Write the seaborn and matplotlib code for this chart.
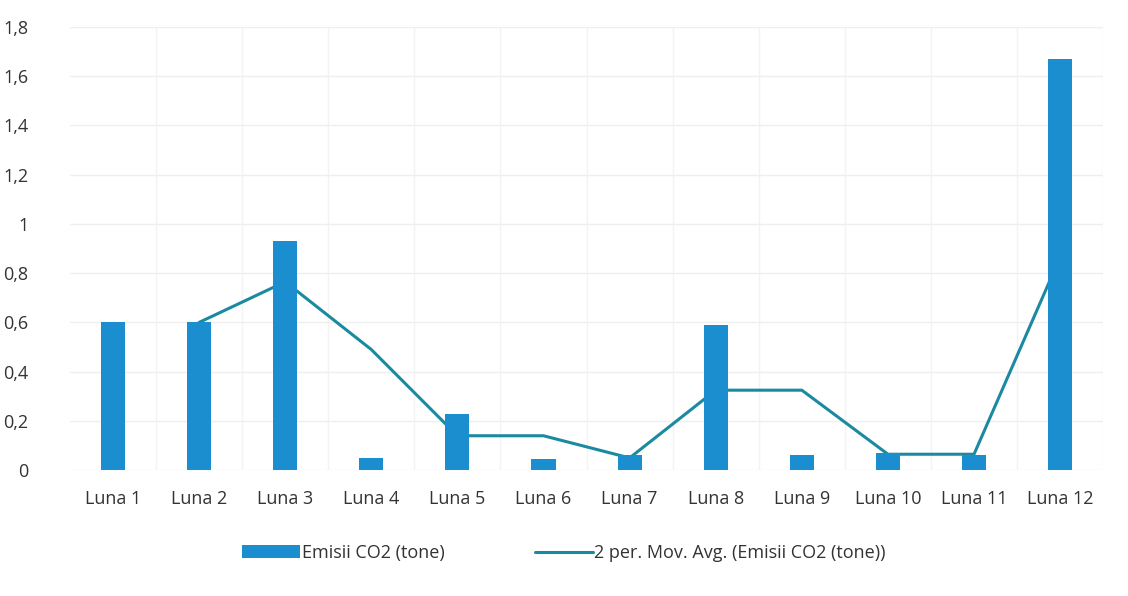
import matplotlib
matplotlib.use("Agg")
import matplotlib.pyplot as plt
import seaborn as sns
import pandas as pd
import numpy as np
from matplotlib.ticker import FuncFormatter

categories = ["Luna 1", "Luna 2", "Luna 3", "Luna 4", "Luna 5", "Luna 6",
              "Luna 7", "Luna 8", "Luna 9", "Luna 10", "Luna 11", "Luna 12"]
emisii = [0.60, 0.60, 0.93, 0.05, 0.23, 0.045, 0.06, 0.59, 0.06, 0.07, 0.06, 1.67]
mov_avg = [np.nan, 0.60, 0.765, 0.49, 0.14, 0.14, 0.05, 0.325, 0.325, 0.065, 0.065, 0.865]
yticks = [0, 0.2, 0.4, 0.6, 0.8, 1.0, 1.2, 1.4, 1.6, 1.8]

bar_color = "#1a8ecf"
line_color = "#1b8aa0"

sns.set_theme(style="white")
plt.rcParams['font.family'] = ['Open Sans', 'DejaVu Sans']

df = pd.DataFrame({"Luna": categories, "Emisii": emisii, "MA": mov_avg})

fig = plt.figure(figsize=(11.28, 5.96), dpi=100)
fig.patch.set_facecolor("white")
ax = fig.add_axes([0.062, 0.211, 0.916, 0.744])

sns.barplot(data=df, x="Luna", y="Emisii", color=bar_color, width=0.28,
            saturation=1, ax=ax, zorder=3, linewidth=0)
line, = ax.plot(np.arange(len(categories)), df["MA"], color=line_color, lw=2.2,
                zorder=2)

ax.set_ylim(0, 1.8)
ax.set_xlim(-0.5, len(categories) - 0.5)
ax.set_yticks(yticks)
ax.yaxis.set_major_formatter(FuncFormatter(lambda v, p: ("%g" % round(v, 1)).replace(".", ",")))
ax.grid(axis="y", color="#efefef", lw=1, zorder=0)
ax.set_xticks(np.arange(len(categories)) + 0.5, minor=True)
ax.grid(axis="x", which="minor", color="#f3f3f3", lw=1, zorder=0)
ax.set_xlabel("")
ax.set_ylabel("")
for s in ax.spines.values():
    s.set_visible(False)
ax.tick_params(axis="both", length=0, labelsize=13, colors="#333333")
ax.tick_params(axis="x", pad=14)
ax.tick_params(axis="y", pad=30)

bar_handle = ax.patches[0]
leg = fig.legend([bar_handle, line],
                 ["Emisii CO2 (tone)", "2 per. Mov. Avg. (Emisii CO2 (tone))"],
                 loc="center", bbox_to_anchor=(0.5, 0.072),
                 ncol=2, frameon=False, fontsize=13, handlelength=3.2,
                 handletextpad=0.1, columnspacing=5)
for t in leg.get_texts():
    t.set_color("#333333")

fig.savefig("out.png", dpi=100, facecolor="white")
